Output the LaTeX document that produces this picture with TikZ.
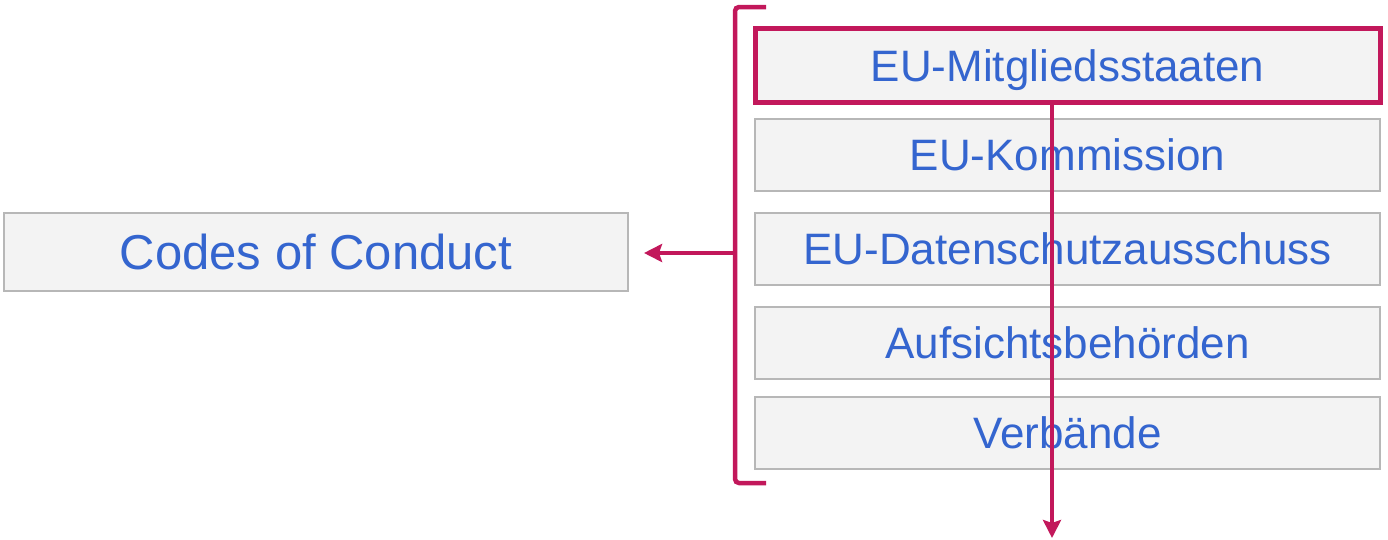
\documentclass[tikz,border=0pt]{standalone}
\usepackage{fontspec}
\setmainfont{Liberation Sans}
\usetikzlibrary{arrows.meta}
\definecolor{boxfill}{HTML}{F3F3F3}
\definecolor{boxline}{HTML}{B7B7B7}
\definecolor{txtblue}{HTML}{3465CF}
\definecolor{accent}{HTML}{C2185B}
\begin{document}
\begin{tikzpicture}[x=1pt,y=-1pt,
  entity/.style={rectangle, fill=boxfill, draw=boxline, line width=2pt,
    minimum width=625pt, minimum height=72pt, inner sep=0pt,
    text height=31.5pt, text depth=0pt,
    text=txtblue, font=\fontsize{44}{50}\selectfont},
  accentline/.style={draw=accent, line width=4.5pt},
  tip/.style={-{Stealth[length=18pt,width=18pt,inset=3pt]}}]
\useasboundingbox (0,0) rectangle (1388,539);

% left target box
\node[entity, minimum width=624pt, minimum height=78pt, text height=35pt,
  font=\fontsize{49}{56}\selectfont] (codes) at (316,252) {Codes of Conduct};

% stack of actors on the right
\node[entity, draw=accent, line width=5pt, minimum height=74pt] (mitglied) at (1067.5,65.5) {EU-Mitgliedsstaaten};
\node[entity] (kommission) at (1067.5,155) {EU-Kommission};
\node[entity] (edsa) at (1067.5,249) {EU-Datenschutzausschuss};
\node[entity] (aufsicht) at (1067.5,343) {Aufsichtsbehörden};
\node[entity] (verbaende) at (1067.5,432.5) {Verbände};

% bracket grouping the actors
\coordinate (btop) at (766,7);
\coordinate (bbot) at (766,483);
\coordinate (bmid) at (735,253);
\draw[accentline, rounded corners=4pt] (btop) -- (735,7) -- (735,483) -- (bbot);

% arrow from the bracket to the codes box
\draw[accentline, line width=4pt, tip, shorten >=15pt] (bmid) -- (bmid -| codes.east);

% downward arrow out of the highlighted box
\coordinate (downend) at (1052,538);
\draw[accentline, line width=4pt, tip] (mitglied.south -| downend) -- (downend);
\end{tikzpicture}
\end{document}
